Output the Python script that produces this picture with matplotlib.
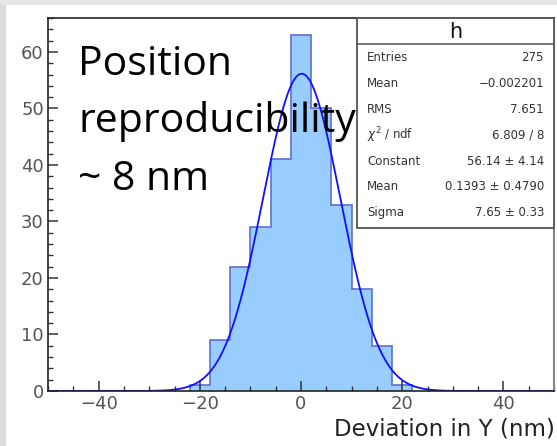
"""ROOT-style histogram of position deviation with Gaussian fit and stat box."""

import numpy as np
import matplotlib
matplotlib.use("Agg")
import matplotlib.pyplot as plt
from matplotlib.patches import Rectangle
from matplotlib.ticker import MultipleLocator

# histogram data (bin edges in nm, counts per bin)
bin_edges = [-22, -18, -14, -10, -6, -2, 2, 6, 10, 14, 18, 22]
counts = [1, 9, 22, 29, 41, 63, 50, 33, 18, 8, 1]

# gaussian fit results
fit_const = 56.14
fit_mean = 0.1393
fit_sigma = 7.65

stat_labels = ["Entries", "Mean", "RMS", r"$\chi^2$ / ndf", "Constant", "Mean", "Sigma"]
stat_values = ["275", "\u22120.002201", "7.651", "6.809 / 8",
               "56.14 \u00b1 4.14", "0.1393 \u00b1 0.4790", "7.65 \u00b1 0.33"]

W, H = 557, 446
FILL = "#99ccff"
EDGE = "#5f6fd0"
LINE = "#1010ff"
TICKCOL = "#555555"
SANS = "DejaVu Sans"

fig = plt.figure(figsize=(W / 100, H / 100), dpi=100, facecolor="white")

# grey slide border bits
fig.add_artist(Rectangle((0, 0), 6 / W, 1, transform=fig.transFigure,
                         facecolor="#dcdcdc", edgecolor="none"))
fig.add_artist(Rectangle((0, 1 - 5 / H), 1, 5 / H, transform=fig.transFigure,
                         facecolor="#e6e6e6", edgecolor="none"))

ax = fig.add_axes([48 / W, 1 - 391 / H, (554 - 48) / W, (391 - 18) / H])
ax.set_xlim(-50, 50)
ax.set_ylim(0, 66)

ax.stairs(counts, bin_edges, fill=True, facecolor=FILL, edgecolor="none")
ax.stairs(counts, bin_edges, color=EDGE, linewidth=1.2)

xs = np.linspace(-50, 50, 600)
ax.plot(xs, fit_const * np.exp(-0.5 * ((xs - fit_mean) / fit_sigma) ** 2),
        color=LINE, linewidth=1.3)

ax.xaxis.set_major_locator(MultipleLocator(20))
ax.xaxis.set_minor_locator(MultipleLocator(5))
ax.yaxis.set_major_locator(MultipleLocator(10))
ax.yaxis.set_minor_locator(MultipleLocator(2))
ax.tick_params(which="both", direction="in", top=False, right=False,
               colors="#333333", labelcolor=TICKCOL, labelsize=13)
ax.tick_params(which="major", length=7.5, width=1.1)
ax.tick_params(which="minor", length=3.8, width=1.0)
ax.tick_params(axis="y", pad=3)
ax.tick_params(axis="x", pad=3)
for lab in ax.get_xticklabels() + ax.get_yticklabels():
    lab.set_family(SANS)
for side in ["left", "bottom", "top"]:
    ax.spines[side].set_color("#222222")
    ax.spines[side].set_linewidth(1.2)
ax.spines["right"].set_color("#888888")
ax.spines["right"].set_linewidth(1.5)

fig.text(555 / W, 1 - 436 / H, "Deviation in Y (nm)", ha="right", va="baseline",
         fontsize=16.5, family=SANS, color="#222222")

# annotation text
for txt, base in [("Position", 75), ("reproducibility", 132), ("~ 8 nm", 190)]:
    fig.text(78 / W, 1 - base / H, txt, ha="left", va="baseline",
             fontsize=29.5, family="Open Sans", color="black")

# stat box
bx0, bx1, by0, by1 = 357, 554, 18, 228
fig.add_artist(Rectangle((bx0 / W, 1 - by1 / H), (bx1 - bx0) / W, (by1 - by0) / H,
                         transform=fig.transFigure, facecolor="white",
                         edgecolor="#555555", linewidth=1.3))
fig.add_artist(plt.Line2D([bx0 / W, bx1 / W], [1 - 44 / H, 1 - 44 / H],
                          transform=fig.transFigure, color="#555555", linewidth=1.1))
fig.text((bx0 + bx1) / 2 / W, 1 - 32 / H, "h", ha="center", va="center",
         fontsize=15, family=SANS, color="#111111")
for i, (lab, val) in enumerate(zip(stat_labels, stat_values)):
    yy = 1 - (58 + i * 25.8) / H
    fig.text(367 / W, yy, lab, ha="left", va="center", fontsize=8.5,
             family=SANS, color="#333333")
    fig.text(544 / W, yy, val, ha="right", va="center", fontsize=8.5,
             family=SANS, color="#333333")

fig.savefig("out.png", dpi=100, facecolor="white")
